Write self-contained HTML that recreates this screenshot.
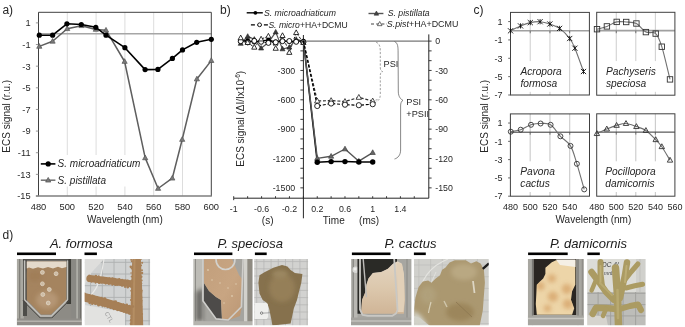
<!DOCTYPE html>
<html><head><meta charset="utf-8"><style>
html,body{margin:0;padding:0;background:#fff;}
body{width:685px;height:327px;overflow:hidden;}
svg{display:block;font-family:"Liberation Sans", sans-serif;}
</style></head><body>
<svg width="685" height="327" viewBox="0 0 685 327">
<defs><filter id="bl" x="-5%" y="-5%" width="110%" height="110%"><feGaussianBlur stdDeviation="0.75"/></filter><filter id="bl2" x="-50%" y="-50%" width="200%" height="200%"><feGaussianBlur stdDeviation="2.2"/></filter><filter id="gb" x="0" y="0" width="100%" height="100%"><feGaussianBlur stdDeviation="0.35"/></filter></defs>
<g filter="url(#gb)">
<rect width="685" height="327" fill="#fff"/>
<g id="pa">
<line x1="67.30" y1="12.30" x2="67.30" y2="196.10" stroke="#d9d9d9" stroke-width="0.9"/>
<line x1="96.10" y1="12.30" x2="96.10" y2="196.10" stroke="#d9d9d9" stroke-width="0.9"/>
<line x1="124.90" y1="12.30" x2="124.90" y2="196.10" stroke="#d9d9d9" stroke-width="0.9"/>
<line x1="153.70" y1="12.30" x2="153.70" y2="196.10" stroke="#d9d9d9" stroke-width="0.9"/>
<line x1="182.50" y1="12.30" x2="182.50" y2="196.10" stroke="#d9d9d9" stroke-width="0.9"/>
<line x1="38.50" y1="33.70" x2="211.30" y2="33.70" stroke="#a6a6a6" stroke-width="1.6"/>
<path d="M38.5,196.1 L38.5,12.3 L211.3,12.3 L211.3,196.1" fill="none" stroke="#404040" stroke-width="1"/>
<line x1="35.90" y1="196.10" x2="211.80" y2="196.10" stroke="#7e7e7e" stroke-width="1.5"/>
<line x1="35.90" y1="22.88" x2="38.50" y2="22.88" stroke="#8c8c8c" stroke-width="0.9"/>
<text x="30.6" y="26.2" font-size="9.3" text-anchor="end" fill="#262626">1</text>
<line x1="35.90" y1="44.52" x2="38.50" y2="44.52" stroke="#8c8c8c" stroke-width="0.9"/>
<text x="30.6" y="47.8" font-size="9.3" text-anchor="end" fill="#262626">-1</text>
<line x1="35.90" y1="66.16" x2="38.50" y2="66.16" stroke="#8c8c8c" stroke-width="0.9"/>
<text x="30.6" y="69.5" font-size="9.3" text-anchor="end" fill="#262626">-3</text>
<line x1="35.90" y1="87.80" x2="38.50" y2="87.80" stroke="#8c8c8c" stroke-width="0.9"/>
<text x="30.6" y="91.1" font-size="9.3" text-anchor="end" fill="#262626">-5</text>
<line x1="35.90" y1="109.44" x2="38.50" y2="109.44" stroke="#8c8c8c" stroke-width="0.9"/>
<text x="30.6" y="112.7" font-size="9.3" text-anchor="end" fill="#262626">-7</text>
<line x1="35.90" y1="131.08" x2="38.50" y2="131.08" stroke="#8c8c8c" stroke-width="0.9"/>
<text x="30.6" y="134.4" font-size="9.3" text-anchor="end" fill="#262626">-9</text>
<line x1="35.90" y1="152.72" x2="38.50" y2="152.72" stroke="#8c8c8c" stroke-width="0.9"/>
<text x="30.6" y="156.0" font-size="9.3" text-anchor="end" fill="#262626">-11</text>
<line x1="35.90" y1="174.36" x2="38.50" y2="174.36" stroke="#8c8c8c" stroke-width="0.9"/>
<text x="30.6" y="177.7" font-size="9.3" text-anchor="end" fill="#262626">-13</text>
<line x1="35.90" y1="196.00" x2="38.50" y2="196.00" stroke="#8c8c8c" stroke-width="0.9"/>
<text x="30.6" y="199.3" font-size="9.3" text-anchor="end" fill="#262626">-15</text>
<text x="38.5" y="210.4" font-size="9.3" text-anchor="middle" fill="#262626">480</text>
<text x="67.3" y="210.4" font-size="9.3" text-anchor="middle" fill="#262626">500</text>
<text x="96.1" y="210.4" font-size="9.3" text-anchor="middle" fill="#262626">520</text>
<text x="124.9" y="210.4" font-size="9.3" text-anchor="middle" fill="#262626">540</text>
<text x="153.7" y="210.4" font-size="9.3" text-anchor="middle" fill="#262626">560</text>
<text x="182.5" y="210.4" font-size="9.3" text-anchor="middle" fill="#262626">580</text>
<text x="211.3" y="210.4" font-size="9.3" text-anchor="middle" fill="#262626">600</text>
<text x="124.9" y="222.6" font-size="10" text-anchor="middle" fill="#262626">Wavelength (nm)</text>
<text x="0.0" y="0.0" font-size="10" text-anchor="middle" fill="#262626" transform="translate(9.6,116.3) rotate(-90)">ECS signal (r.u.)</text>
<text x="2.4" y="13.9" font-size="12" text-anchor="start" fill="#262626">a)</text>
<rect x="39.5" y="155" width="102.5" height="31.5" fill="#fff"/>
<polyline points="39.30,46.40 52.60,41.30 67.20,28.70 81.50,25.70 95.80,29.40 106.00,30.20 124.60,61.50 145.20,157.90 158.10,188.50 172.30,178.20 182.20,139.50 196.90,79.00 211.30,60.60" fill="none" stroke="#5e5e5e" stroke-width="1.5" stroke-linejoin="round"/>
<polygon points="39.30,43.59 36.70,48.27 41.90,48.27" fill="#7a7a7a" stroke="#555" stroke-width="0.7" stroke-linejoin="miter"/>
<polygon points="52.60,38.49 50.00,43.17 55.20,43.17" fill="#7a7a7a" stroke="#555" stroke-width="0.7" stroke-linejoin="miter"/>
<polygon points="67.20,25.89 64.60,30.57 69.80,30.57" fill="#7a7a7a" stroke="#555" stroke-width="0.7" stroke-linejoin="miter"/>
<polygon points="81.50,22.89 78.90,27.57 84.10,27.57" fill="#7a7a7a" stroke="#555" stroke-width="0.7" stroke-linejoin="miter"/>
<polygon points="95.80,26.59 93.20,31.27 98.40,31.27" fill="#7a7a7a" stroke="#555" stroke-width="0.7" stroke-linejoin="miter"/>
<polygon points="106.00,27.39 103.40,32.07 108.60,32.07" fill="#7a7a7a" stroke="#555" stroke-width="0.7" stroke-linejoin="miter"/>
<polygon points="124.60,58.69 122.00,63.37 127.20,63.37" fill="#7a7a7a" stroke="#555" stroke-width="0.7" stroke-linejoin="miter"/>
<polygon points="145.20,155.09 142.60,159.77 147.80,159.77" fill="#7a7a7a" stroke="#555" stroke-width="0.7" stroke-linejoin="miter"/>
<polygon points="158.10,185.69 155.50,190.37 160.70,190.37" fill="#7a7a7a" stroke="#555" stroke-width="0.7" stroke-linejoin="miter"/>
<polygon points="172.30,175.39 169.70,180.07 174.90,180.07" fill="#7a7a7a" stroke="#555" stroke-width="0.7" stroke-linejoin="miter"/>
<polygon points="182.20,136.69 179.60,141.37 184.80,141.37" fill="#7a7a7a" stroke="#555" stroke-width="0.7" stroke-linejoin="miter"/>
<polygon points="196.90,76.19 194.30,80.87 199.50,80.87" fill="#7a7a7a" stroke="#555" stroke-width="0.7" stroke-linejoin="miter"/>
<polygon points="211.30,57.79 208.70,62.47 213.90,62.47" fill="#7a7a7a" stroke="#555" stroke-width="0.7" stroke-linejoin="miter"/>
<polyline points="39.30,35.20 52.60,35.20 66.90,23.80 81.30,24.50 95.80,27.30 106.00,35.20 124.90,47.70 145.10,69.60 157.90,69.40 172.40,58.40 182.50,49.90 196.70,42.30 211.30,39.30" fill="none" stroke="#000" stroke-width="1.6" stroke-linejoin="round"/>
<circle cx="39.30" cy="35.20" r="2.6" fill="#000" stroke="none" stroke-width="1"/>
<circle cx="52.60" cy="35.20" r="2.6" fill="#000" stroke="none" stroke-width="1"/>
<circle cx="66.90" cy="23.80" r="2.6" fill="#000" stroke="none" stroke-width="1"/>
<circle cx="81.30" cy="24.50" r="2.6" fill="#000" stroke="none" stroke-width="1"/>
<circle cx="95.80" cy="27.30" r="2.6" fill="#000" stroke="none" stroke-width="1"/>
<circle cx="106.00" cy="35.20" r="2.6" fill="#000" stroke="none" stroke-width="1"/>
<circle cx="124.90" cy="47.70" r="2.6" fill="#000" stroke="none" stroke-width="1"/>
<circle cx="145.10" cy="69.60" r="2.6" fill="#000" stroke="none" stroke-width="1"/>
<circle cx="157.90" cy="69.40" r="2.6" fill="#000" stroke="none" stroke-width="1"/>
<circle cx="172.40" cy="58.40" r="2.6" fill="#000" stroke="none" stroke-width="1"/>
<circle cx="182.50" cy="49.90" r="2.6" fill="#000" stroke="none" stroke-width="1"/>
<circle cx="196.70" cy="42.30" r="2.6" fill="#000" stroke="none" stroke-width="1"/>
<circle cx="211.30" cy="39.30" r="2.6" fill="#000" stroke="none" stroke-width="1"/>
<line x1="40.80" y1="163.90" x2="55.40" y2="163.90" stroke="#000" stroke-width="1.6"/>
<circle cx="48.20" cy="163.90" r="2.6" fill="#000" stroke="none" stroke-width="1"/>
<text x="57.6" y="167.4" font-size="10" text-anchor="start" fill="#262626" font-style="italic">S. microadriaticum</text>
<line x1="40.80" y1="180.20" x2="55.40" y2="180.20" stroke="#6e6e6e" stroke-width="1.5"/>
<polygon points="48.20,177.39 45.60,182.07 50.80,182.07" fill="#7a7a7a" stroke="#555" stroke-width="0.7" stroke-linejoin="miter"/>
<text x="57.6" y="183.7" font-size="10" text-anchor="start" fill="#262626" font-style="italic">S. pistillata</text>
</g>
<g id="pb">
<line x1="303.40" y1="41.10" x2="428.80" y2="41.10" stroke="#404040" stroke-width="0.9"/>
<line x1="233.70" y1="198.20" x2="428.80" y2="198.20" stroke="#262626" stroke-width="1"/>
<line x1="303.40" y1="35.00" x2="303.40" y2="218.30" stroke="#262626" stroke-width="1"/>
<line x1="428.80" y1="34.40" x2="428.80" y2="198.20" stroke="#262626" stroke-width="1"/>
<line x1="300.40" y1="41.10" x2="303.40" y2="41.10" stroke="#262626" stroke-width="0.9"/>
<line x1="428.80" y1="41.10" x2="431.60" y2="41.10" stroke="#262626" stroke-width="0.9"/>
<line x1="300.40" y1="50.88" x2="303.40" y2="50.88" stroke="#262626" stroke-width="0.9"/>
<line x1="428.80" y1="50.88" x2="431.60" y2="50.88" stroke="#262626" stroke-width="0.9"/>
<line x1="300.40" y1="60.67" x2="303.40" y2="60.67" stroke="#262626" stroke-width="0.9"/>
<line x1="428.80" y1="60.67" x2="431.60" y2="60.67" stroke="#262626" stroke-width="0.9"/>
<line x1="300.40" y1="70.45" x2="303.40" y2="70.45" stroke="#262626" stroke-width="0.9"/>
<line x1="428.80" y1="70.45" x2="431.60" y2="70.45" stroke="#262626" stroke-width="0.9"/>
<line x1="300.40" y1="80.23" x2="303.40" y2="80.23" stroke="#262626" stroke-width="0.9"/>
<line x1="428.80" y1="80.23" x2="431.60" y2="80.23" stroke="#262626" stroke-width="0.9"/>
<line x1="300.40" y1="90.02" x2="303.40" y2="90.02" stroke="#262626" stroke-width="0.9"/>
<line x1="428.80" y1="90.02" x2="431.60" y2="90.02" stroke="#262626" stroke-width="0.9"/>
<line x1="300.40" y1="99.80" x2="303.40" y2="99.80" stroke="#262626" stroke-width="0.9"/>
<line x1="428.80" y1="99.80" x2="431.60" y2="99.80" stroke="#262626" stroke-width="0.9"/>
<line x1="300.40" y1="109.58" x2="303.40" y2="109.58" stroke="#262626" stroke-width="0.9"/>
<line x1="428.80" y1="109.58" x2="431.60" y2="109.58" stroke="#262626" stroke-width="0.9"/>
<line x1="300.40" y1="119.37" x2="303.40" y2="119.37" stroke="#262626" stroke-width="0.9"/>
<line x1="428.80" y1="119.37" x2="431.60" y2="119.37" stroke="#262626" stroke-width="0.9"/>
<line x1="300.40" y1="129.15" x2="303.40" y2="129.15" stroke="#262626" stroke-width="0.9"/>
<line x1="428.80" y1="129.15" x2="431.60" y2="129.15" stroke="#262626" stroke-width="0.9"/>
<line x1="300.40" y1="138.93" x2="303.40" y2="138.93" stroke="#262626" stroke-width="0.9"/>
<line x1="428.80" y1="138.93" x2="431.60" y2="138.93" stroke="#262626" stroke-width="0.9"/>
<line x1="300.40" y1="148.72" x2="303.40" y2="148.72" stroke="#262626" stroke-width="0.9"/>
<line x1="428.80" y1="148.72" x2="431.60" y2="148.72" stroke="#262626" stroke-width="0.9"/>
<line x1="300.40" y1="158.50" x2="303.40" y2="158.50" stroke="#262626" stroke-width="0.9"/>
<line x1="428.80" y1="158.50" x2="431.60" y2="158.50" stroke="#262626" stroke-width="0.9"/>
<line x1="300.40" y1="168.28" x2="303.40" y2="168.28" stroke="#262626" stroke-width="0.9"/>
<line x1="428.80" y1="168.28" x2="431.60" y2="168.28" stroke="#262626" stroke-width="0.9"/>
<line x1="300.40" y1="178.07" x2="303.40" y2="178.07" stroke="#262626" stroke-width="0.9"/>
<line x1="428.80" y1="178.07" x2="431.60" y2="178.07" stroke="#262626" stroke-width="0.9"/>
<line x1="300.40" y1="187.85" x2="303.40" y2="187.85" stroke="#262626" stroke-width="0.9"/>
<line x1="428.80" y1="187.85" x2="431.60" y2="187.85" stroke="#262626" stroke-width="0.9"/>
<text x="295.2" y="73.7" font-size="8.8" text-anchor="end" fill="#262626">-300</text>
<text x="295.2" y="103.0" font-size="8.8" text-anchor="end" fill="#262626">-600</text>
<text x="295.2" y="132.3" font-size="8.8" text-anchor="end" fill="#262626">-900</text>
<text x="295.2" y="161.7" font-size="8.8" text-anchor="end" fill="#262626">-1200</text>
<text x="295.2" y="191.0" font-size="8.8" text-anchor="end" fill="#262626">-1500</text>
<text x="435.3" y="44.3" font-size="8.8" text-anchor="start" fill="#262626">0</text>
<text x="435.3" y="73.7" font-size="8.8" text-anchor="start" fill="#262626">-30</text>
<text x="435.3" y="103.0" font-size="8.8" text-anchor="start" fill="#262626">-60</text>
<text x="435.3" y="132.3" font-size="8.8" text-anchor="start" fill="#262626">-90</text>
<text x="435.3" y="161.7" font-size="8.8" text-anchor="start" fill="#262626">-120</text>
<text x="435.3" y="191.0" font-size="8.8" text-anchor="start" fill="#262626">-150</text>
<line x1="233.70" y1="196.20" x2="233.70" y2="198.20" stroke="#262626" stroke-width="0.9"/>
<line x1="247.64" y1="196.20" x2="247.64" y2="198.20" stroke="#262626" stroke-width="0.9"/>
<line x1="261.58" y1="196.20" x2="261.58" y2="198.20" stroke="#262626" stroke-width="0.9"/>
<line x1="275.52" y1="196.20" x2="275.52" y2="198.20" stroke="#262626" stroke-width="0.9"/>
<line x1="289.46" y1="196.20" x2="289.46" y2="198.20" stroke="#262626" stroke-width="0.9"/>
<line x1="303.40" y1="196.20" x2="303.40" y2="198.20" stroke="#262626" stroke-width="0.9"/>
<line x1="233.70" y1="198.20" x2="233.70" y2="200.20" stroke="#262626" stroke-width="0.9"/>
<line x1="317.26" y1="196.20" x2="317.26" y2="198.20" stroke="#262626" stroke-width="0.9"/>
<line x1="331.12" y1="196.20" x2="331.12" y2="198.20" stroke="#262626" stroke-width="0.9"/>
<line x1="344.98" y1="196.20" x2="344.98" y2="198.20" stroke="#262626" stroke-width="0.9"/>
<line x1="358.84" y1="196.20" x2="358.84" y2="198.20" stroke="#262626" stroke-width="0.9"/>
<line x1="372.70" y1="196.20" x2="372.70" y2="198.20" stroke="#262626" stroke-width="0.9"/>
<line x1="386.56" y1="196.20" x2="386.56" y2="198.20" stroke="#262626" stroke-width="0.9"/>
<line x1="400.42" y1="196.20" x2="400.42" y2="198.20" stroke="#262626" stroke-width="0.9"/>
<line x1="414.28" y1="196.20" x2="414.28" y2="198.20" stroke="#262626" stroke-width="0.9"/>
<text x="233.7" y="212.1" font-size="8.8" text-anchor="middle" fill="#262626">-1</text>
<text x="261.6" y="212.1" font-size="8.8" text-anchor="middle" fill="#262626">-0.6</text>
<text x="289.5" y="212.1" font-size="8.8" text-anchor="middle" fill="#262626">-0.2</text>
<text x="317.3" y="212.1" font-size="8.8" text-anchor="middle" fill="#262626">0.2</text>
<text x="345.0" y="212.1" font-size="8.8" text-anchor="middle" fill="#262626">0.6</text>
<text x="372.7" y="212.1" font-size="8.8" text-anchor="middle" fill="#262626">1</text>
<text x="400.4" y="212.1" font-size="8.8" text-anchor="middle" fill="#262626">1.4</text>
<text x="267.7" y="223.5" font-size="10" text-anchor="middle" fill="#262626">(s)</text>
<text x="333.8" y="223.7" font-size="10" text-anchor="middle" fill="#262626">Time</text>
<text x="369.1" y="223.7" font-size="10" text-anchor="middle" fill="#262626">(ms)</text>
<text x="0.0" y="0.0" font-size="10" text-anchor="middle" fill="#262626" transform="translate(243.6,118.8) rotate(-90)">ECS signal (ΔI/Ix10<tspan font-size="6.5" dy="-3.8">-6</tspan><tspan dy="3.8">)</tspan></text>
<text x="220.0" y="13.9" font-size="12" text-anchor="start" fill="#262626">b)</text>
<line x1="246.70" y1="12.80" x2="262.80" y2="12.80" stroke="#000" stroke-width="1.4"/>
<circle cx="255.40" cy="12.80" r="1.9" fill="#000" stroke="none" stroke-width="1"/>
<text x="264.0" y="16.3" font-size="8.7" text-anchor="start" fill="#262626" font-style="italic">S. microadriaticum</text>
<line x1="250.90" y1="24.80" x2="268.00" y2="24.80" stroke="#000" stroke-width="1.2" stroke-dasharray="4,2.5"/>
<circle cx="259.60" cy="24.80" r="1.9" fill="#fff" stroke="#000" stroke-width="0.9"/>
<text x="268.4" y="27.9" font-size="8.6" fill="#262626"><tspan font-style="italic">S. micro</tspan>+HA+DCMU</text>
<line x1="368.50" y1="13.50" x2="383.40" y2="13.50" stroke="#555" stroke-width="1.4"/>
<polygon points="376.40,11.02 374.10,15.16 378.70,15.16" fill="#444" stroke="#333" stroke-width="0.6" stroke-linejoin="miter"/>
<text x="387.7" y="16.4" font-size="8.7" text-anchor="start" fill="#262626" font-style="italic">S. pistillata</text>
<line x1="371.00" y1="24.00" x2="387.00" y2="24.00" stroke="#444" stroke-width="1.1" stroke-dasharray="3,2.2"/>
<polygon points="379.70,21.52 377.40,25.66 382.00,25.66" fill="#fff" stroke="#333" stroke-width="0.7" stroke-linejoin="miter"/>
<text x="386.8" y="27.3" font-size="8.9" fill="#262626"><tspan font-style="italic">S.pist</tspan>+HA+DCMU</text>
<path d="M376.1,42.2 C380.5,44 380.3,48 380.3,55 L380.3,68 C380.3,70.5 381.5,71.2 382.7,71.6 C381.5,72 380.3,73 380.3,75 L380.3,94 C380.3,99 379,100.5 376,101.5" fill="none" stroke="#888" stroke-width="0.8" stroke-dasharray="2.2,1.6"/>
<text x="383.6" y="67.4" font-size="9.2" text-anchor="start" fill="#262626">PSI</text>
<path d="M394.5,41.5 C398,43 398.1,47 398.1,53 L398.3,92 C398.5,97 401,99.5 403,100.3 C401.5,101 400.6,103 400.6,106 L400.6,150 C400.6,155 398,158 394.5,159" fill="none" stroke="#555" stroke-width="0.7"/>
<text x="406.3" y="105.4" font-size="9.2" text-anchor="start" fill="#262626">PSI</text>
<text x="406.3" y="116.9" font-size="9.2" text-anchor="start" fill="#262626">+PSII</text>
<polyline points="240.70,37.90 247.70,42.60 254.30,47.30 261.10,39.10 268.40,36.20 275.70,48.40 282.50,35.60 289.30,52.50 296.20,32.70 303.40,42.60" fill="none" stroke="#000" stroke-width="0.9" stroke-linejoin="round" stroke-dasharray="2.5,1.5"/>
<polyline points="240.70,43.50 247.70,36.40 254.30,39.30 261.10,48.20 268.40,42.60 275.70,32.10 282.50,49.00 289.30,47.30 296.20,39.40 303.40,41.10" fill="none" stroke="#555" stroke-width="1.2" stroke-linejoin="round"/>
<polyline points="240.70,41.50 247.70,40.60 254.30,42.20 261.10,41.00 268.40,40.20 275.70,41.90 282.50,40.80 289.30,41.60 296.20,41.20 303.40,41.10" fill="none" stroke="#000" stroke-width="1.3" stroke-linejoin="round"/>
<polyline points="240.70,41.20 247.70,42.40 254.30,40.90 261.10,41.80 268.40,42.90 275.70,42.30 282.50,41.20 289.30,41.00 296.20,41.80 303.40,42.20" fill="none" stroke="#000" stroke-width="0.9" stroke-linejoin="round" stroke-dasharray="2.5,1.5"/>
<polygon points="240.70,40.80 238.20,45.30 243.20,45.30" fill="#3a3a3a" stroke="#222" stroke-width="0.6" stroke-linejoin="miter"/>
<polygon points="247.70,33.70 245.20,38.20 250.20,38.20" fill="#3a3a3a" stroke="#222" stroke-width="0.6" stroke-linejoin="miter"/>
<polygon points="254.30,36.60 251.80,41.10 256.80,41.10" fill="#3a3a3a" stroke="#222" stroke-width="0.6" stroke-linejoin="miter"/>
<polygon points="261.10,45.50 258.60,50.00 263.60,50.00" fill="#3a3a3a" stroke="#222" stroke-width="0.6" stroke-linejoin="miter"/>
<polygon points="268.40,39.90 265.90,44.40 270.90,44.40" fill="#3a3a3a" stroke="#222" stroke-width="0.6" stroke-linejoin="miter"/>
<polygon points="275.70,29.40 273.20,33.90 278.20,33.90" fill="#3a3a3a" stroke="#222" stroke-width="0.6" stroke-linejoin="miter"/>
<polygon points="282.50,46.30 280.00,50.80 285.00,50.80" fill="#3a3a3a" stroke="#222" stroke-width="0.6" stroke-linejoin="miter"/>
<polygon points="289.30,44.60 286.80,49.10 291.80,49.10" fill="#3a3a3a" stroke="#222" stroke-width="0.6" stroke-linejoin="miter"/>
<polygon points="296.20,36.70 293.70,41.20 298.70,41.20" fill="#3a3a3a" stroke="#222" stroke-width="0.6" stroke-linejoin="miter"/>
<polygon points="303.40,38.40 300.90,42.90 305.90,42.90" fill="#3a3a3a" stroke="#222" stroke-width="0.6" stroke-linejoin="miter"/>
<circle cx="240.70" cy="41.50" r="2.4" fill="#000" stroke="none" stroke-width="1"/>
<circle cx="247.70" cy="40.60" r="2.4" fill="#000" stroke="none" stroke-width="1"/>
<circle cx="254.30" cy="42.20" r="2.4" fill="#000" stroke="none" stroke-width="1"/>
<circle cx="261.10" cy="41.00" r="2.4" fill="#000" stroke="none" stroke-width="1"/>
<circle cx="268.40" cy="40.20" r="2.4" fill="#000" stroke="none" stroke-width="1"/>
<circle cx="275.70" cy="41.90" r="2.4" fill="#000" stroke="none" stroke-width="1"/>
<circle cx="282.50" cy="40.80" r="2.4" fill="#000" stroke="none" stroke-width="1"/>
<circle cx="289.30" cy="41.60" r="2.4" fill="#000" stroke="none" stroke-width="1"/>
<circle cx="296.20" cy="41.20" r="2.4" fill="#000" stroke="none" stroke-width="1"/>
<circle cx="303.40" cy="41.10" r="2.4" fill="#000" stroke="none" stroke-width="1"/>
<circle cx="240.70" cy="41.20" r="2.5" fill="#fff" stroke="#000" stroke-width="0.9"/>
<circle cx="247.70" cy="42.40" r="2.5" fill="#fff" stroke="#000" stroke-width="0.9"/>
<circle cx="254.30" cy="40.90" r="2.5" fill="#fff" stroke="#000" stroke-width="0.9"/>
<circle cx="261.10" cy="41.80" r="2.5" fill="#fff" stroke="#000" stroke-width="0.9"/>
<circle cx="268.40" cy="42.90" r="2.5" fill="#fff" stroke="#000" stroke-width="0.9"/>
<circle cx="275.70" cy="42.30" r="2.5" fill="#fff" stroke="#000" stroke-width="0.9"/>
<circle cx="282.50" cy="41.20" r="2.5" fill="#fff" stroke="#000" stroke-width="0.9"/>
<circle cx="289.30" cy="41.00" r="2.5" fill="#fff" stroke="#000" stroke-width="0.9"/>
<circle cx="296.20" cy="41.80" r="2.5" fill="#fff" stroke="#000" stroke-width="0.9"/>
<circle cx="303.40" cy="42.20" r="2.5" fill="#fff" stroke="#000" stroke-width="0.9"/>
<polygon points="240.70,35.09 238.10,39.77 243.30,39.77" fill="#fff" stroke="#000" stroke-width="0.8" stroke-linejoin="miter"/>
<polygon points="247.70,39.79 245.10,44.47 250.30,44.47" fill="#fff" stroke="#000" stroke-width="0.8" stroke-linejoin="miter"/>
<polygon points="254.30,44.49 251.70,49.17 256.90,49.17" fill="#fff" stroke="#000" stroke-width="0.8" stroke-linejoin="miter"/>
<polygon points="261.10,36.29 258.50,40.97 263.70,40.97" fill="#fff" stroke="#000" stroke-width="0.8" stroke-linejoin="miter"/>
<polygon points="268.40,33.39 265.80,38.07 271.00,38.07" fill="#fff" stroke="#000" stroke-width="0.8" stroke-linejoin="miter"/>
<polygon points="275.70,45.59 273.10,50.27 278.30,50.27" fill="#fff" stroke="#000" stroke-width="0.8" stroke-linejoin="miter"/>
<polygon points="282.50,32.79 279.90,37.47 285.10,37.47" fill="#fff" stroke="#000" stroke-width="0.8" stroke-linejoin="miter"/>
<polygon points="289.30,49.69 286.70,54.37 291.90,54.37" fill="#fff" stroke="#000" stroke-width="0.8" stroke-linejoin="miter"/>
<polygon points="296.20,29.89 293.60,34.57 298.80,34.57" fill="#fff" stroke="#000" stroke-width="0.8" stroke-linejoin="miter"/>
<polygon points="303.40,39.79 300.80,44.47 306.00,44.47" fill="#fff" stroke="#000" stroke-width="0.8" stroke-linejoin="miter"/>
<polyline points="303.40,41.10 317.26,162.20 331.12,161.60 344.98,161.60 358.84,162.00 372.70,162.00" fill="none" stroke="#000" stroke-width="1.5" stroke-linejoin="round"/>
<polyline points="303.40,41.10 317.26,158.40 331.12,156.30 344.98,149.00 358.84,161.20 372.70,152.60" fill="none" stroke="#555" stroke-width="1.4" stroke-linejoin="round"/>
<polyline points="303.40,41.10 317.26,101.00 331.12,100.60 344.98,101.50 358.84,97.40 372.70,101.00" fill="none" stroke="#333" stroke-width="1.2" stroke-linejoin="round" stroke-dasharray="3,1.8"/>
<polyline points="303.40,41.10 317.26,106.00 331.12,103.50 344.98,104.70 358.84,105.20 372.70,104.20" fill="none" stroke="#000" stroke-width="1.2" stroke-linejoin="round" stroke-dasharray="3,1.8"/>
<line x1="372.20" y1="101.00" x2="378.00" y2="99.50" stroke="#888" stroke-width="0.8" stroke-dasharray="2,1.5"/>
<polygon points="317.26,155.59 314.66,160.27 319.86,160.27" fill="#666" stroke="#444" stroke-width="0.7" stroke-linejoin="miter"/>
<polygon points="331.12,153.49 328.52,158.17 333.72,158.17" fill="#666" stroke="#444" stroke-width="0.7" stroke-linejoin="miter"/>
<polygon points="344.98,146.19 342.38,150.87 347.58,150.87" fill="#666" stroke="#444" stroke-width="0.7" stroke-linejoin="miter"/>
<polygon points="358.84,158.39 356.24,163.07 361.44,163.07" fill="#666" stroke="#444" stroke-width="0.7" stroke-linejoin="miter"/>
<polygon points="372.70,149.79 370.10,154.47 375.30,154.47" fill="#666" stroke="#444" stroke-width="0.7" stroke-linejoin="miter"/>
<circle cx="317.26" cy="162.20" r="2.7" fill="#000" stroke="none" stroke-width="1"/>
<circle cx="331.12" cy="161.60" r="2.7" fill="#000" stroke="none" stroke-width="1"/>
<circle cx="344.98" cy="161.60" r="2.7" fill="#000" stroke="none" stroke-width="1"/>
<circle cx="358.84" cy="162.00" r="2.7" fill="#000" stroke="none" stroke-width="1"/>
<circle cx="372.70" cy="162.00" r="2.7" fill="#000" stroke="none" stroke-width="1"/>
<polygon points="317.26,98.08 314.56,102.94 319.96,102.94" fill="#fff" stroke="#222" stroke-width="0.8" stroke-linejoin="miter"/>
<polygon points="331.12,97.68 328.42,102.54 333.82,102.54" fill="#fff" stroke="#222" stroke-width="0.8" stroke-linejoin="miter"/>
<polygon points="344.98,98.58 342.28,103.44 347.68,103.44" fill="#fff" stroke="#222" stroke-width="0.8" stroke-linejoin="miter"/>
<polygon points="358.84,94.48 356.14,99.34 361.54,99.34" fill="#fff" stroke="#222" stroke-width="0.8" stroke-linejoin="miter"/>
<polygon points="372.70,98.08 370.00,102.94 375.40,102.94" fill="#fff" stroke="#222" stroke-width="0.8" stroke-linejoin="miter"/>
<circle cx="317.26" cy="106.00" r="2.6" fill="#fff" stroke="#111" stroke-width="0.9"/>
<circle cx="331.12" cy="103.50" r="2.6" fill="#fff" stroke="#111" stroke-width="0.9"/>
<circle cx="344.98" cy="104.70" r="2.6" fill="#fff" stroke="#111" stroke-width="0.9"/>
<circle cx="358.84" cy="105.20" r="2.6" fill="#fff" stroke="#111" stroke-width="0.9"/>
<circle cx="372.70" cy="104.20" r="2.6" fill="#fff" stroke="#111" stroke-width="0.9"/>
</g>
<g id="pc">
<line x1="530.23" y1="12.40" x2="530.23" y2="95.00" stroke="#cdcdcd" stroke-width="1.0"/>
<line x1="549.95" y1="12.40" x2="549.95" y2="95.00" stroke="#cdcdcd" stroke-width="1.0"/>
<line x1="569.67" y1="12.40" x2="569.67" y2="95.00" stroke="#cdcdcd" stroke-width="1.0"/>
<line x1="510.50" y1="30.76" x2="589.40" y2="30.76" stroke="#a0a0a0" stroke-width="1.7"/>
<line x1="530.23" y1="30.76" x2="530.23" y2="33.26" stroke="#555" stroke-width="0.8"/>
<line x1="549.95" y1="30.76" x2="549.95" y2="33.26" stroke="#555" stroke-width="0.8"/>
<line x1="569.67" y1="30.76" x2="569.67" y2="33.26" stroke="#555" stroke-width="0.8"/>
<rect x="510.5" y="12.4" width="78.90" height="82.60" fill="none" stroke="#404040" stroke-width="1"/>
<line x1="508.20" y1="21.58" x2="510.50" y2="21.58" stroke="#555" stroke-width="0.9"/>
<text x="502.6" y="24.8" font-size="9" text-anchor="end" fill="#262626">1</text>
<line x1="508.20" y1="39.93" x2="510.50" y2="39.93" stroke="#555" stroke-width="0.9"/>
<text x="502.6" y="43.1" font-size="9" text-anchor="end" fill="#262626">-1</text>
<line x1="508.20" y1="58.29" x2="510.50" y2="58.29" stroke="#555" stroke-width="0.9"/>
<text x="502.6" y="61.5" font-size="9" text-anchor="end" fill="#262626">-3</text>
<line x1="508.20" y1="76.64" x2="510.50" y2="76.64" stroke="#555" stroke-width="0.9"/>
<text x="502.6" y="79.8" font-size="9" text-anchor="end" fill="#262626">-5</text>
<line x1="508.20" y1="95.00" x2="510.50" y2="95.00" stroke="#555" stroke-width="0.9"/>
<text x="502.6" y="98.2" font-size="9" text-anchor="end" fill="#262626">-7</text>
<path d="M510.50,30.80 C512.17,29.98 517.20,27.27 520.50,25.90 C523.80,24.53 527.03,23.30 530.30,22.60 C533.57,21.90 536.83,21.47 540.10,21.70 C543.37,21.93 546.65,22.88 549.90,24.00 C553.15,25.12 556.30,25.98 559.60,28.40 C562.90,30.82 567.15,35.20 569.70,38.50 C572.25,41.80 572.60,42.70 574.90,48.20 C577.20,53.70 582.07,67.62 583.50,71.50" fill="none" stroke="#707070" stroke-width="1.1"/>
<path d="M507.90,28.20L513.10,33.40M513.10,28.20L507.90,33.40M510.50,28.20L510.50,33.40" stroke="#111" stroke-width="0.9" fill="none"/>
<path d="M517.90,23.30L523.10,28.50M523.10,23.30L517.90,28.50M520.50,23.30L520.50,28.50" stroke="#111" stroke-width="0.9" fill="none"/>
<path d="M527.70,20.00L532.90,25.20M532.90,20.00L527.70,25.20M530.30,20.00L530.30,25.20" stroke="#111" stroke-width="0.9" fill="none"/>
<path d="M537.50,19.10L542.70,24.30M542.70,19.10L537.50,24.30M540.10,19.10L540.10,24.30" stroke="#111" stroke-width="0.9" fill="none"/>
<path d="M547.30,21.40L552.50,26.60M552.50,21.40L547.30,26.60M549.90,21.40L549.90,26.60" stroke="#111" stroke-width="0.9" fill="none"/>
<path d="M557.00,25.80L562.20,31.00M562.20,25.80L557.00,31.00M559.60,25.80L559.60,31.00" stroke="#111" stroke-width="0.9" fill="none"/>
<path d="M567.10,35.90L572.30,41.10M572.30,35.90L567.10,41.10M569.70,35.90L569.70,41.10" stroke="#111" stroke-width="0.9" fill="none"/>
<path d="M572.30,45.60L577.50,50.80M577.50,45.60L572.30,50.80M574.90,45.60L574.90,50.80" stroke="#111" stroke-width="0.9" fill="none"/>
<path d="M580.90,68.90L586.10,74.10M586.10,68.90L580.90,74.10M583.50,68.90L583.50,74.10" stroke="#111" stroke-width="0.9" fill="none"/>
<rect x="514.0" y="61.1" width="52" height="30.7" fill="#fff"/>
<text x="520.4" y="74.5" font-size="10.2" text-anchor="start" fill="#262626" font-style="italic">Acropora</text>
<text x="520.4" y="86.6" font-size="10.2" text-anchor="start" fill="#262626" font-style="italic">formosa</text>
<line x1="616.25" y1="12.30" x2="616.25" y2="95.20" stroke="#cdcdcd" stroke-width="1.0"/>
<line x1="635.80" y1="12.30" x2="635.80" y2="95.20" stroke="#cdcdcd" stroke-width="1.0"/>
<line x1="655.35" y1="12.30" x2="655.35" y2="95.20" stroke="#cdcdcd" stroke-width="1.0"/>
<line x1="596.70" y1="30.72" x2="674.90" y2="30.72" stroke="#a0a0a0" stroke-width="1.7"/>
<line x1="616.25" y1="30.72" x2="616.25" y2="33.22" stroke="#555" stroke-width="0.8"/>
<line x1="635.80" y1="30.72" x2="635.80" y2="33.22" stroke="#555" stroke-width="0.8"/>
<line x1="655.35" y1="30.72" x2="655.35" y2="33.22" stroke="#555" stroke-width="0.8"/>
<rect x="596.7" y="12.3" width="78.20" height="82.90" fill="none" stroke="#404040" stroke-width="1"/>
<path d="M597.00,29.20 C598.65,28.73 603.62,27.62 606.90,26.40 C610.18,25.18 613.48,22.63 616.70,21.90 C619.92,21.17 622.92,21.73 626.20,22.00 C629.48,22.27 633.12,21.82 636.40,23.50 C639.68,25.18 642.68,30.42 645.90,32.10 C649.12,33.78 653.05,31.17 655.70,33.60 C658.35,36.03 659.42,39.07 661.80,46.70 C664.18,54.33 668.63,73.95 670.00,79.40" fill="none" stroke="#707070" stroke-width="1.1"/>
<rect x="594.30" y="26.50" width="5.4" height="5.4" fill="none" stroke="#333" stroke-width="0.9"/>
<rect x="604.20" y="23.70" width="5.4" height="5.4" fill="none" stroke="#333" stroke-width="0.9"/>
<rect x="614.00" y="19.20" width="5.4" height="5.4" fill="none" stroke="#333" stroke-width="0.9"/>
<rect x="623.50" y="19.30" width="5.4" height="5.4" fill="none" stroke="#333" stroke-width="0.9"/>
<rect x="633.70" y="20.80" width="5.4" height="5.4" fill="none" stroke="#333" stroke-width="0.9"/>
<rect x="643.20" y="29.40" width="5.4" height="5.4" fill="none" stroke="#333" stroke-width="0.9"/>
<rect x="653.00" y="30.90" width="5.4" height="5.4" fill="none" stroke="#333" stroke-width="0.9"/>
<rect x="659.10" y="44.00" width="5.4" height="5.4" fill="none" stroke="#333" stroke-width="0.9"/>
<rect x="667.30" y="76.70" width="5.4" height="5.4" fill="none" stroke="#333" stroke-width="0.9"/>
<rect x="600.2" y="61.1" width="63" height="30.7" fill="#fff"/>
<text x="606.0" y="74.5" font-size="10.2" text-anchor="start" fill="#262626" font-style="italic">Pachyseris</text>
<text x="606.0" y="86.6" font-size="10.2" text-anchor="start" fill="#262626" font-style="italic">speciosa</text>
<line x1="530.17" y1="113.90" x2="530.17" y2="196.20" stroke="#b5b5b5" stroke-width="0.8"/>
<line x1="549.95" y1="113.90" x2="549.95" y2="196.20" stroke="#b5b5b5" stroke-width="0.8"/>
<line x1="569.73" y1="113.90" x2="569.73" y2="196.20" stroke="#b5b5b5" stroke-width="0.8"/>
<line x1="510.40" y1="132.19" x2="589.50" y2="132.19" stroke="#333" stroke-width="1.0"/>
<line x1="530.17" y1="132.19" x2="530.17" y2="134.69" stroke="#555" stroke-width="0.8"/>
<line x1="549.95" y1="132.19" x2="549.95" y2="134.69" stroke="#555" stroke-width="0.8"/>
<line x1="569.73" y1="132.19" x2="569.73" y2="134.69" stroke="#555" stroke-width="0.8"/>
<rect x="510.4" y="113.9" width="79.10" height="82.30" fill="none" stroke="#404040" stroke-width="1"/>
<line x1="508.10" y1="123.04" x2="510.40" y2="123.04" stroke="#555" stroke-width="0.9"/>
<text x="502.5" y="126.2" font-size="9" text-anchor="end" fill="#262626">1</text>
<line x1="508.10" y1="141.33" x2="510.40" y2="141.33" stroke="#555" stroke-width="0.9"/>
<text x="502.5" y="144.5" font-size="9" text-anchor="end" fill="#262626">-1</text>
<line x1="508.10" y1="159.62" x2="510.40" y2="159.62" stroke="#555" stroke-width="0.9"/>
<text x="502.5" y="162.8" font-size="9" text-anchor="end" fill="#262626">-3</text>
<line x1="508.10" y1="177.91" x2="510.40" y2="177.91" stroke="#555" stroke-width="0.9"/>
<text x="502.5" y="181.1" font-size="9" text-anchor="end" fill="#262626">-5</text>
<line x1="508.10" y1="196.20" x2="510.40" y2="196.20" stroke="#555" stroke-width="0.9"/>
<text x="502.5" y="199.4" font-size="9" text-anchor="end" fill="#262626">-7</text>
<text x="510.4" y="210.3" font-size="9" text-anchor="middle" fill="#262626">480</text>
<text x="530.2" y="210.3" font-size="9" text-anchor="middle" fill="#262626">500</text>
<text x="550.0" y="210.3" font-size="9" text-anchor="middle" fill="#262626">520</text>
<text x="569.7" y="210.3" font-size="9" text-anchor="middle" fill="#262626">540</text>
<path d="M510.80,131.70 C512.45,131.37 517.33,130.85 520.70,129.70 C524.07,128.55 527.68,125.83 531.00,124.80 C534.32,123.77 537.33,123.50 540.60,123.50 C543.87,123.50 547.30,122.67 550.60,124.80 C553.90,126.93 557.08,132.78 560.40,136.30 C563.72,139.82 567.75,141.32 570.50,145.90 C573.25,150.48 574.62,156.55 576.90,163.80 C579.18,171.05 582.98,185.13 584.20,189.40" fill="none" stroke="#707070" stroke-width="1.1"/>
<circle cx="510.80" cy="131.70" r="2.5" fill="none" stroke="#333" stroke-width="0.9"/>
<circle cx="520.70" cy="129.70" r="2.5" fill="none" stroke="#333" stroke-width="0.9"/>
<circle cx="531.00" cy="124.80" r="2.5" fill="none" stroke="#333" stroke-width="0.9"/>
<circle cx="540.60" cy="123.50" r="2.5" fill="none" stroke="#333" stroke-width="0.9"/>
<circle cx="550.60" cy="124.80" r="2.5" fill="none" stroke="#333" stroke-width="0.9"/>
<circle cx="560.40" cy="136.30" r="2.5" fill="none" stroke="#333" stroke-width="0.9"/>
<circle cx="570.50" cy="145.90" r="2.5" fill="none" stroke="#333" stroke-width="0.9"/>
<circle cx="576.90" cy="163.80" r="2.5" fill="none" stroke="#333" stroke-width="0.9"/>
<circle cx="584.20" cy="189.40" r="2.5" fill="none" stroke="#333" stroke-width="0.9"/>
<rect x="513.9" y="161.3" width="52" height="30.7" fill="#fff"/>
<text x="520.3" y="174.7" font-size="10.2" text-anchor="start" fill="#262626" font-style="italic">Pavona</text>
<text x="520.3" y="186.6" font-size="10.2" text-anchor="start" fill="#262626" font-style="italic">cactus</text>
<line x1="616.25" y1="113.80" x2="616.25" y2="196.20" stroke="#b5b5b5" stroke-width="0.8"/>
<line x1="635.80" y1="113.80" x2="635.80" y2="196.20" stroke="#b5b5b5" stroke-width="0.8"/>
<line x1="655.35" y1="113.80" x2="655.35" y2="196.20" stroke="#b5b5b5" stroke-width="0.8"/>
<line x1="596.70" y1="132.11" x2="674.90" y2="132.11" stroke="#333" stroke-width="1.0"/>
<line x1="616.25" y1="132.11" x2="616.25" y2="134.61" stroke="#555" stroke-width="0.8"/>
<line x1="635.80" y1="132.11" x2="635.80" y2="134.61" stroke="#555" stroke-width="0.8"/>
<line x1="655.35" y1="132.11" x2="655.35" y2="134.61" stroke="#555" stroke-width="0.8"/>
<rect x="596.7" y="113.8" width="78.20" height="82.40" fill="none" stroke="#404040" stroke-width="1"/>
<text x="596.7" y="210.3" font-size="9" text-anchor="middle" fill="#262626">480</text>
<text x="616.2" y="210.3" font-size="9" text-anchor="middle" fill="#262626">500</text>
<text x="635.8" y="210.3" font-size="9" text-anchor="middle" fill="#262626">520</text>
<text x="655.4" y="210.3" font-size="9" text-anchor="middle" fill="#262626">540</text>
<text x="674.9" y="210.3" font-size="9" text-anchor="middle" fill="#262626">560</text>
<path d="M596.90,133.60 C598.55,132.83 603.52,130.37 606.80,129.00 C610.08,127.63 613.40,126.32 616.60,125.40 C619.80,124.48 622.70,123.30 626.00,123.50 C629.30,123.70 633.08,125.43 636.40,126.60 C639.72,127.77 642.68,128.32 645.90,130.50 C649.12,132.68 653.05,137.00 655.70,139.70 C658.35,142.40 659.42,143.28 661.80,146.70 C664.18,150.12 668.63,157.95 670.00,160.20" fill="none" stroke="#707070" stroke-width="1.1"/>
<polygon points="596.90,130.68 594.20,135.54 599.60,135.54" fill="none" stroke="#333" stroke-width="0.9" stroke-linejoin="miter"/>
<polygon points="606.80,126.08 604.10,130.94 609.50,130.94" fill="none" stroke="#333" stroke-width="0.9" stroke-linejoin="miter"/>
<polygon points="616.60,122.48 613.90,127.34 619.30,127.34" fill="none" stroke="#333" stroke-width="0.9" stroke-linejoin="miter"/>
<polygon points="626.00,120.58 623.30,125.44 628.70,125.44" fill="none" stroke="#333" stroke-width="0.9" stroke-linejoin="miter"/>
<polygon points="636.40,123.68 633.70,128.54 639.10,128.54" fill="none" stroke="#333" stroke-width="0.9" stroke-linejoin="miter"/>
<polygon points="645.90,127.58 643.20,132.44 648.60,132.44" fill="none" stroke="#333" stroke-width="0.9" stroke-linejoin="miter"/>
<polygon points="655.70,136.78 653.00,141.64 658.40,141.64" fill="none" stroke="#333" stroke-width="0.9" stroke-linejoin="miter"/>
<polygon points="661.80,143.78 659.10,148.64 664.50,148.64" fill="none" stroke="#333" stroke-width="0.9" stroke-linejoin="miter"/>
<polygon points="670.00,157.28 667.30,162.14 672.70,162.14" fill="none" stroke="#333" stroke-width="0.9" stroke-linejoin="miter"/>
<rect x="600.2" y="161.3" width="63" height="30.7" fill="#fff"/>
<text x="605.3" y="174.7" font-size="10.2" text-anchor="start" fill="#262626" font-style="italic">Pocillopora</text>
<text x="605.3" y="186.6" font-size="10.2" text-anchor="start" fill="#262626" font-style="italic">damicornis</text>
<text x="593.4" y="222.6" font-size="10" text-anchor="middle" fill="#262626">Wavelength (nm)</text>
<text x="0.0" y="0.0" font-size="10" text-anchor="middle" fill="#262626" transform="translate(487.6,116.3) rotate(-90)">ECS signal (r.u.)</text>
<text x="473.4" y="13.9" font-size="12" text-anchor="start" fill="#262626">c)</text>
</g>
<g id="pd">
<text x="2.5" y="239.4" font-size="12" text-anchor="start" fill="#262626">d)</text>
<text x="49.9" y="247.6" font-size="13" text-anchor="start" fill="#1a1a1a" font-style="italic">A. formosa</text>
<text x="217.4" y="247.6" font-size="13" text-anchor="start" fill="#1a1a1a" font-style="italic">P. speciosa</text>
<text x="384.6" y="247.6" font-size="13" text-anchor="start" fill="#1a1a1a" font-style="italic">P. cactus</text>
<text x="549.9" y="247.6" font-size="13" text-anchor="start" fill="#1a1a1a" font-style="italic">P. damicornis</text>
<rect x="17" y="252.5" width="39.0" height="2.6" fill="#000"/>
<rect x="84.5" y="252.5" width="12.4" height="2.6" fill="#000"/>
<rect x="194" y="252.5" width="38.4" height="2.6" fill="#000"/>
<rect x="254.9" y="252.5" width="11.8" height="2.6" fill="#000"/>
<rect x="351.9" y="252.5" width="38.6" height="2.6" fill="#000"/>
<rect x="413.9" y="252.5" width="11.9" height="2.6" fill="#000"/>
<rect x="528.1" y="252.5" width="39.6" height="2.6" fill="#000"/>
<rect x="587.4" y="252.5" width="12.4" height="2.6" fill="#000"/>
<clipPath id="p1"><rect x="16.8" y="259.1" width="65.0" height="66.1"/></clipPath>
<g clip-path="url(#p1)"><g filter="url(#bl)">
<rect x="16.8" y="259" width="65" height="67" fill="#8d8b85"/>
<rect x="16.8" y="259" width="7" height="67" fill="#aaa9a2"/>
<line x1="19.70" y1="259.00" x2="19.70" y2="326.00" stroke="#7d7c76" stroke-width="1.2"/>
<rect x="23" y="259" width="4" height="57" fill="#4e4d49"/>
<rect x="66.4" y="259" width="4.8" height="45" fill="#3d3c39"/>
<rect x="71.2" y="259" width="10.6" height="67" fill="#8a8984"/>
<line x1="77.10" y1="259.00" x2="77.10" y2="326.00" stroke="#b2b1ab" stroke-width="1.6"/>
<line x1="80.50" y1="259.00" x2="80.50" y2="326.00" stroke="#6f6e69" stroke-width="1"/>
<polygon points="26.8,261.5 66.4,261.5 66.4,300.0 51.0,314.5 41.0,314.5 26.8,300.0" fill="#a5845f"/>
<g filter="url(#bl2)"><ellipse cx="47" cy="300" rx="11" ry="9" fill="#b59674"/><ellipse cx="35" cy="276" rx="7" ry="6" fill="#a07e59"/></g>
<polygon points="26.8,261.5 66.4,261.5 66.4,267.0 62.0,268.2 58.0,266.8 53.0,268.5 48.0,267.0 43.0,268.6 38.0,267.2 33.0,268.8 29.0,267.5 26.8,268.5" fill="#e4dacb"/>
<circle cx="42.4" cy="272.4" r="1.9" fill="#cdbba3" stroke="#ddd1c1" stroke-width="0.9"/>
<circle cx="56.1" cy="273.7" r="1.9" fill="#cdbba3" stroke="#ddd1c1" stroke-width="0.9"/>
<circle cx="42.4" cy="283.8" r="1.9" fill="#cdbba3" stroke="#ddd1c1" stroke-width="0.9"/>
<circle cx="49.3" cy="289.5" r="1.9" fill="#cdbba3" stroke="#ddd1c1" stroke-width="0.9"/>
<circle cx="42.8" cy="294.5" r="1.9" fill="#cdbba3" stroke="#ddd1c1" stroke-width="0.9"/>
<circle cx="48.2" cy="303" r="1.9" fill="#cdbba3" stroke="#ddd1c1" stroke-width="0.9"/>
<line x1="24.50" y1="259.60" x2="68.50" y2="259.60" stroke="#55534f" stroke-width="1.6"/>
<polyline points="24.6,261.0 24.6,299.8 40.7,316.0 51.4,316.0 67.5,299.8 67.5,261.0" fill="none" stroke="#c3c2bd" stroke-width="1.5" stroke-linejoin="round" stroke-linecap="round"/>
<polyline points="23.3,301.0 40.3,318.0 51.8,318.0 68.8,301.0" fill="none" stroke="#4a4945" stroke-width="1.0" stroke-linejoin="round" stroke-linecap="round"/>
<rect x="16.8" y="318.5" width="65" height="8" fill="#8f8d88"/>
<line x1="16.80" y1="321.20" x2="81.80" y2="321.20" stroke="#b5b3ad" stroke-width="1.6"/>
</g></g>
<clipPath id="p2"><rect x="84.6" y="259.1" width="65.5" height="66.1"/></clipPath>
<g clip-path="url(#p2)"><g filter="url(#bl)">
<rect x="84.6" y="259" width="66" height="67" fill="#d0d2d2"/>
<line x1="90.60" y1="259.00" x2="90.60" y2="326.00" stroke="#aeb0b0" stroke-width="0.9"/>
<line x1="102.30" y1="259.00" x2="102.30" y2="326.00" stroke="#aeb0b0" stroke-width="0.9"/>
<line x1="114.00" y1="259.00" x2="114.00" y2="326.00" stroke="#aeb0b0" stroke-width="0.9"/>
<line x1="125.70" y1="259.00" x2="125.70" y2="326.00" stroke="#aeb0b0" stroke-width="0.9"/>
<line x1="137.40" y1="259.00" x2="137.40" y2="326.00" stroke="#aeb0b0" stroke-width="0.9"/>
<line x1="149.10" y1="259.00" x2="149.10" y2="326.00" stroke="#aeb0b0" stroke-width="0.9"/>
<line x1="84.60" y1="262.30" x2="151.00" y2="262.30" stroke="#aeb0b0" stroke-width="0.9"/>
<line x1="84.60" y1="274.00" x2="151.00" y2="274.00" stroke="#aeb0b0" stroke-width="0.9"/>
<line x1="84.60" y1="285.70" x2="151.00" y2="285.70" stroke="#aeb0b0" stroke-width="0.9"/>
<line x1="84.60" y1="297.40" x2="151.00" y2="297.40" stroke="#aeb0b0" stroke-width="0.9"/>
<line x1="84.60" y1="309.10" x2="151.00" y2="309.10" stroke="#aeb0b0" stroke-width="0.9"/>
<line x1="84.60" y1="320.80" x2="151.00" y2="320.80" stroke="#aeb0b0" stroke-width="0.9"/>
<polygon points="84.6,259.0 104.0,259.0 92.0,272.0 84.6,285.0" fill="#dededc"/>
<path d="M86,300 C95,292 100,286 104,259" fill="none" stroke="#e8e8e6" stroke-width="1.2"/>
<polygon points="84.6,305.0 125.0,312.0 125.0,326.0 84.6,326.0" fill="#e2e2e0"/>
<text x="104" y="320" font-size="6" fill="#9a9a9a" transform="rotate(60 110 317)">CTL</text>
<polyline points="89.8,278.6 110.0,281.0 132.3,284.0" fill="none" stroke="#a67f56" stroke-width="7.0" stroke-linejoin="round" stroke-linecap="round"/>
<polyline points="83.0,296.8 105.0,302.5 132.0,310.6" fill="none" stroke="#a67f56" stroke-width="8.6" stroke-linejoin="round" stroke-linecap="round"/>
<polygon points="132.3,259 140.9,259 142.2,290 143.2,326 130.2,326 131,290" fill="#a88158"/>
<line x1="134.50" y1="259.00" x2="133.50" y2="326.00" stroke="#b48e63" stroke-width="2.0"/>
<circle cx="89.04" cy="281.12" r="1.13" fill="#a67f56" stroke="none" stroke-width="1"/>
<circle cx="89.18" cy="275.40" r="0.97" fill="#a67f56" stroke="none" stroke-width="1"/>
<circle cx="91.52" cy="281.91" r="0.79" fill="#a67f56" stroke="none" stroke-width="1"/>
<circle cx="93.14" cy="276.53" r="0.82" fill="#a67f56" stroke="none" stroke-width="1"/>
<circle cx="95.51" cy="282.85" r="0.84" fill="#a67f56" stroke="none" stroke-width="1"/>
<circle cx="95.91" cy="276.16" r="1.29" fill="#a67f56" stroke="none" stroke-width="1"/>
<circle cx="99.12" cy="282.76" r="1.31" fill="#a67f56" stroke="none" stroke-width="1"/>
<circle cx="98.70" cy="276.22" r="0.93" fill="#a67f56" stroke="none" stroke-width="1"/>
<circle cx="101.31" cy="282.68" r="0.94" fill="#a67f56" stroke="none" stroke-width="1"/>
<circle cx="103.59" cy="277.75" r="1.09" fill="#a67f56" stroke="none" stroke-width="1"/>
<circle cx="105.62" cy="283.58" r="1.07" fill="#a67f56" stroke="none" stroke-width="1"/>
<circle cx="104.95" cy="278.09" r="0.88" fill="#a67f56" stroke="none" stroke-width="1"/>
<circle cx="108.88" cy="284.08" r="0.94" fill="#a67f56" stroke="none" stroke-width="1"/>
<circle cx="109.43" cy="278.16" r="0.93" fill="#a67f56" stroke="none" stroke-width="1"/>
<circle cx="112.28" cy="284.88" r="0.9" fill="#a67f56" stroke="none" stroke-width="1"/>
<circle cx="112.59" cy="278.48" r="1.25" fill="#a67f56" stroke="none" stroke-width="1"/>
<circle cx="115.37" cy="284.75" r="1.31" fill="#a67f56" stroke="none" stroke-width="1"/>
<circle cx="114.66" cy="278.89" r="1.19" fill="#a67f56" stroke="none" stroke-width="1"/>
<circle cx="117.13" cy="285.24" r="0.79" fill="#a67f56" stroke="none" stroke-width="1"/>
<circle cx="119.20" cy="279.03" r="1.09" fill="#a67f56" stroke="none" stroke-width="1"/>
<circle cx="122.06" cy="285.66" r="1.15" fill="#a67f56" stroke="none" stroke-width="1"/>
<circle cx="122.16" cy="279.66" r="1.02" fill="#a67f56" stroke="none" stroke-width="1"/>
<circle cx="125.04" cy="286.88" r="1.03" fill="#a67f56" stroke="none" stroke-width="1"/>
<circle cx="125.41" cy="280.77" r="1.16" fill="#a67f56" stroke="none" stroke-width="1"/>
<circle cx="127.74" cy="287.30" r="1.22" fill="#a67f56" stroke="none" stroke-width="1"/>
<circle cx="127.74" cy="280.65" r="1.14" fill="#a67f56" stroke="none" stroke-width="1"/>
<circle cx="82.44" cy="300.33" r="0.86" fill="#a67f56" stroke="none" stroke-width="1"/>
<circle cx="84.63" cy="293.60" r="1.19" fill="#a67f56" stroke="none" stroke-width="1"/>
<circle cx="85.84" cy="301.02" r="0.99" fill="#a67f56" stroke="none" stroke-width="1"/>
<circle cx="89.45" cy="294.96" r="1.02" fill="#a67f56" stroke="none" stroke-width="1"/>
<circle cx="89.66" cy="302.99" r="1.22" fill="#a67f56" stroke="none" stroke-width="1"/>
<circle cx="92.58" cy="295.60" r="1.0" fill="#a67f56" stroke="none" stroke-width="1"/>
<circle cx="92.29" cy="303.75" r="1.3" fill="#a67f56" stroke="none" stroke-width="1"/>
<circle cx="93.97" cy="296.14" r="0.9" fill="#a67f56" stroke="none" stroke-width="1"/>
<circle cx="95.22" cy="304.05" r="1.09" fill="#a67f56" stroke="none" stroke-width="1"/>
<circle cx="97.24" cy="297.31" r="1.0" fill="#a67f56" stroke="none" stroke-width="1"/>
<circle cx="98.58" cy="305.13" r="1.29" fill="#a67f56" stroke="none" stroke-width="1"/>
<circle cx="101.48" cy="297.85" r="1.11" fill="#a67f56" stroke="none" stroke-width="1"/>
<circle cx="102.55" cy="305.59" r="1.26" fill="#a67f56" stroke="none" stroke-width="1"/>
<circle cx="104.90" cy="298.35" r="1.21" fill="#a67f56" stroke="none" stroke-width="1"/>
<circle cx="104.84" cy="306.72" r="0.83" fill="#a67f56" stroke="none" stroke-width="1"/>
<circle cx="107.34" cy="300.15" r="0.81" fill="#a67f56" stroke="none" stroke-width="1"/>
<circle cx="107.58" cy="307.19" r="0.96" fill="#a67f56" stroke="none" stroke-width="1"/>
<circle cx="109.05" cy="300.73" r="0.85" fill="#a67f56" stroke="none" stroke-width="1"/>
<circle cx="110.33" cy="308.25" r="0.78" fill="#a67f56" stroke="none" stroke-width="1"/>
<circle cx="114.24" cy="301.40" r="0.85" fill="#a67f56" stroke="none" stroke-width="1"/>
<circle cx="113.76" cy="309.22" r="0.97" fill="#a67f56" stroke="none" stroke-width="1"/>
<circle cx="115.67" cy="301.49" r="1.32" fill="#a67f56" stroke="none" stroke-width="1"/>
<circle cx="117.28" cy="310.42" r="0.82" fill="#a67f56" stroke="none" stroke-width="1"/>
<circle cx="118.51" cy="303.00" r="0.92" fill="#a67f56" stroke="none" stroke-width="1"/>
<circle cx="121.30" cy="311.15" r="0.78" fill="#a67f56" stroke="none" stroke-width="1"/>
<circle cx="123.61" cy="304.22" r="0.85" fill="#a67f56" stroke="none" stroke-width="1"/>
<circle cx="123.77" cy="311.68" r="1.06" fill="#a67f56" stroke="none" stroke-width="1"/>
<circle cx="126.87" cy="304.71" r="1.15" fill="#a67f56" stroke="none" stroke-width="1"/>
<circle cx="126.07" cy="312.80" r="0.86" fill="#a67f56" stroke="none" stroke-width="1"/>
<circle cx="129.35" cy="305.87" r="1.2" fill="#a67f56" stroke="none" stroke-width="1"/>
<circle cx="129.35" cy="313.56" r="1.22" fill="#a67f56" stroke="none" stroke-width="1"/>
<circle cx="133.03" cy="306.50" r="1.21" fill="#a67f56" stroke="none" stroke-width="1"/>
<circle cx="131.14" cy="259.76" r="0.89" fill="#a88158" stroke="none" stroke-width="1"/>
<circle cx="141.36" cy="259.04" r="0.79" fill="#a88158" stroke="none" stroke-width="1"/>
<circle cx="131.74" cy="261.27" r="0.91" fill="#a88158" stroke="none" stroke-width="1"/>
<circle cx="142.14" cy="262.86" r="1.02" fill="#a88158" stroke="none" stroke-width="1"/>
<circle cx="130.82" cy="266.85" r="1.3" fill="#a88158" stroke="none" stroke-width="1"/>
<circle cx="141.19" cy="265.48" r="0.89" fill="#a88158" stroke="none" stroke-width="1"/>
<circle cx="131.83" cy="268.47" r="1.11" fill="#a88158" stroke="none" stroke-width="1"/>
<circle cx="141.99" cy="270.16" r="1.03" fill="#a88158" stroke="none" stroke-width="1"/>
<circle cx="131.06" cy="272.97" r="0.82" fill="#a88158" stroke="none" stroke-width="1"/>
<circle cx="142.08" cy="272.99" r="1.2" fill="#a88158" stroke="none" stroke-width="1"/>
<circle cx="131.48" cy="276.60" r="0.87" fill="#a88158" stroke="none" stroke-width="1"/>
<circle cx="141.33" cy="276.69" r="1.21" fill="#a88158" stroke="none" stroke-width="1"/>
<circle cx="131.59" cy="280.53" r="0.99" fill="#a88158" stroke="none" stroke-width="1"/>
<circle cx="141.84" cy="280.47" r="0.86" fill="#a88158" stroke="none" stroke-width="1"/>
<circle cx="131.90" cy="281.90" r="1.27" fill="#a88158" stroke="none" stroke-width="1"/>
<circle cx="141.09" cy="283.54" r="1.22" fill="#a88158" stroke="none" stroke-width="1"/>
<circle cx="131.25" cy="287.35" r="0.96" fill="#a88158" stroke="none" stroke-width="1"/>
<circle cx="141.07" cy="286.32" r="0.78" fill="#a88158" stroke="none" stroke-width="1"/>
<circle cx="131.26" cy="290.73" r="1.06" fill="#a88158" stroke="none" stroke-width="1"/>
<circle cx="141.46" cy="290.64" r="1.25" fill="#a88158" stroke="none" stroke-width="1"/>
<circle cx="131.83" cy="293.78" r="0.91" fill="#a88158" stroke="none" stroke-width="1"/>
<circle cx="141.21" cy="292.50" r="1.09" fill="#a88158" stroke="none" stroke-width="1"/>
<circle cx="131.56" cy="295.82" r="0.84" fill="#a88158" stroke="none" stroke-width="1"/>
<circle cx="141.36" cy="297.38" r="1.02" fill="#a88158" stroke="none" stroke-width="1"/>
<circle cx="130.92" cy="300.00" r="1.0" fill="#a88158" stroke="none" stroke-width="1"/>
<circle cx="141.55" cy="300.80" r="1.06" fill="#a88158" stroke="none" stroke-width="1"/>
<circle cx="132.08" cy="303.26" r="1.01" fill="#a88158" stroke="none" stroke-width="1"/>
<circle cx="140.91" cy="302.44" r="1.21" fill="#a88158" stroke="none" stroke-width="1"/>
<circle cx="131.48" cy="305.81" r="1.17" fill="#a88158" stroke="none" stroke-width="1"/>
<circle cx="141.32" cy="306.74" r="1.06" fill="#a88158" stroke="none" stroke-width="1"/>
<circle cx="131.08" cy="310.13" r="0.83" fill="#a88158" stroke="none" stroke-width="1"/>
<circle cx="141.22" cy="310.14" r="0.92" fill="#a88158" stroke="none" stroke-width="1"/>
<circle cx="131.44" cy="314.05" r="1.08" fill="#a88158" stroke="none" stroke-width="1"/>
<circle cx="142.09" cy="314.02" r="1.01" fill="#a88158" stroke="none" stroke-width="1"/>
<circle cx="131.44" cy="317.07" r="1.05" fill="#a88158" stroke="none" stroke-width="1"/>
<circle cx="141.49" cy="317.26" r="1.06" fill="#a88158" stroke="none" stroke-width="1"/>
<circle cx="130.88" cy="320.15" r="1.15" fill="#a88158" stroke="none" stroke-width="1"/>
<circle cx="142.12" cy="321.10" r="0.91" fill="#a88158" stroke="none" stroke-width="1"/>
<circle cx="130.87" cy="323.74" r="1.23" fill="#a88158" stroke="none" stroke-width="1"/>
<circle cx="141.06" cy="322.73" r="1.01" fill="#a88158" stroke="none" stroke-width="1"/>
</g></g>
<linearGradient id="g3" x1="0" y1="0" x2="1" y2="1"><stop offset="0" stop-color="#c29f7c"/><stop offset="0.55" stop-color="#c8a582"/><stop offset="1" stop-color="#bb9774"/></linearGradient>
<clipPath id="p3"><rect x="193.3" y="259.1" width="59.3" height="66.1"/></clipPath>
<g clip-path="url(#p3)"><g filter="url(#bl)">
<rect x="193.3" y="259" width="60" height="67" fill="#a5a49f"/>
<rect x="193.3" y="259" width="10" height="67" fill="#bdbcb6"/>
<line x1="195.50" y1="259.00" x2="195.50" y2="326.00" stroke="#8e8d88" stroke-width="1"/>
<g filter="url(#bl2)"><polygon points="196,292 203,288 203,321 196,321" fill="#6a6965"/></g>
<polygon points="204.0,283.0 209.0,291.0 216.0,297.0 221.0,300.0 222.0,320.0 216.0,319.0 204.0,302.0" fill="#4d4c49"/>
<polygon points="204.0,259.0 232.0,259.0 235.0,266.0 239.0,275.0 242.0,279.0 242.0,306.0 240.0,316.0 229.0,320.0 222.0,320.0 221.0,300.0 216.0,297.0 209.0,291.0 204.0,283.0" fill="url(#g3)"/>
<circle cx="208.00" cy="270.00" r="0.9" fill="#dcc8ac" stroke="none" stroke-width="1"/>
<circle cx="212.00" cy="280.00" r="0.8" fill="#dcc8ac" stroke="none" stroke-width="1"/>
<circle cx="220.00" cy="283.00" r="0.8" fill="#dcc8ac" stroke="none" stroke-width="1"/>
<circle cx="228.00" cy="288.00" r="0.8" fill="#dcc8ac" stroke="none" stroke-width="1"/>
<circle cx="232.00" cy="296.00" r="0.9" fill="#dcc8ac" stroke="none" stroke-width="1"/>
<circle cx="224.00" cy="303.00" r="0.8" fill="#dcc8ac" stroke="none" stroke-width="1"/>
<circle cx="236.00" cy="284.00" r="0.8" fill="#dcc8ac" stroke="none" stroke-width="1"/>
<polyline points="202.9,259.0 202.9,300.8 216.1,318.9 228.2,320.0 241.4,306.8 243.1,259.0" fill="none" stroke="#cfcecb" stroke-width="1.6" stroke-linejoin="round" stroke-linecap="round"/>
<path d="M216,259 C216,273 235,273 235,259" fill="none" stroke="#d3d2ce" stroke-width="1.6"/>
<rect x="244" y="259" width="3.5" height="67" fill="#d2d1cc"/>
<rect x="247.5" y="259" width="5.1" height="67" fill="#8f8b82"/>
<rect x="193.3" y="321.2" width="60" height="5" fill="#b5b4ae"/>
</g></g>
<clipPath id="p4"><rect x="254.1" y="259.1" width="54.0" height="66.1"/></clipPath>
<g clip-path="url(#p4)"><g filter="url(#bl)">
<rect x="254.1" y="259" width="54" height="67" fill="#d2d2d0"/>
<line x1="256.70" y1="259.00" x2="256.70" y2="326.00" stroke="#b5b5b3" stroke-width="0.7"/>
<line x1="263.90" y1="259.00" x2="263.90" y2="326.00" stroke="#b5b5b3" stroke-width="0.7"/>
<line x1="271.10" y1="259.00" x2="271.10" y2="326.00" stroke="#b5b5b3" stroke-width="0.7"/>
<line x1="278.30" y1="259.00" x2="278.30" y2="326.00" stroke="#b5b5b3" stroke-width="0.7"/>
<line x1="285.50" y1="259.00" x2="285.50" y2="326.00" stroke="#b5b5b3" stroke-width="0.7"/>
<line x1="292.70" y1="259.00" x2="292.70" y2="326.00" stroke="#b5b5b3" stroke-width="0.7"/>
<line x1="299.90" y1="259.00" x2="299.90" y2="326.00" stroke="#b5b5b3" stroke-width="0.7"/>
<line x1="307.10" y1="259.00" x2="307.10" y2="326.00" stroke="#b5b5b3" stroke-width="0.7"/>
<line x1="254.10" y1="261.60" x2="309.00" y2="261.60" stroke="#b5b5b3" stroke-width="0.7"/>
<line x1="254.10" y1="268.80" x2="309.00" y2="268.80" stroke="#b5b5b3" stroke-width="0.7"/>
<line x1="254.10" y1="276.00" x2="309.00" y2="276.00" stroke="#b5b5b3" stroke-width="0.7"/>
<line x1="254.10" y1="283.20" x2="309.00" y2="283.20" stroke="#b5b5b3" stroke-width="0.7"/>
<line x1="254.10" y1="290.40" x2="309.00" y2="290.40" stroke="#b5b5b3" stroke-width="0.7"/>
<line x1="254.10" y1="297.60" x2="309.00" y2="297.60" stroke="#b5b5b3" stroke-width="0.7"/>
<line x1="254.10" y1="304.80" x2="309.00" y2="304.80" stroke="#b5b5b3" stroke-width="0.7"/>
<line x1="254.10" y1="312.00" x2="309.00" y2="312.00" stroke="#b5b5b3" stroke-width="0.7"/>
<line x1="254.10" y1="319.20" x2="309.00" y2="319.20" stroke="#b5b5b3" stroke-width="0.7"/>
<polygon points="259.5,275.2 264.9,272.0 273.4,267.7 282.0,265.1 287.4,266.6 290.6,269.9 294.9,273.1 302.4,274.1 301.3,282.7 299.1,291.3 297.0,299.9 293.8,308.4 291.6,319.1 290.6,323.4 272.4,325.5 271.3,319.1 269.1,308.4 267.0,303.1 262.7,299.9 259.5,293.4 258.4,282.7" fill="#86714d"/>
<g filter="url(#bl2)"><ellipse cx="282" cy="288" rx="13" ry="14" fill="#957f58"/></g>
<g filter="url(#bl2)"><ellipse cx="280" cy="274" rx="8" ry="4" fill="#9c8862"/></g>
<path d="M254.6,303.1 L265.5,303.1 Q268.1,303.1 268.1,306 L268.1,316 Q268.1,319.1 265.5,319.1 L254.6,319.1 Z" fill="#efefed"/>
<circle cx="261.6" cy="313.1" r="1.2" fill="none" stroke="#666" stroke-width="0.8"/>
<line x1="262.80" y1="313.10" x2="270.00" y2="312.80" stroke="#777" stroke-width="0.6"/>
</g></g>
<linearGradient id="g5" x1="0" y1="0" x2="0" y2="1"><stop offset="0" stop-color="#e4d5c1"/><stop offset="0.5" stop-color="#dcc8ad"/><stop offset="1" stop-color="#d0b597"/></linearGradient>
<clipPath id="p5"><rect x="351.0" y="259.1" width="60.4" height="66.1"/></clipPath>
<g clip-path="url(#p5)"><g filter="url(#bl)">
<rect x="351" y="259" width="61" height="67" fill="#a7a6a1"/>
<rect x="351" y="259" width="6.5" height="67" fill="#b8b7b2"/>
<line x1="353.20" y1="259.00" x2="353.20" y2="326.00" stroke="#85847f" stroke-width="1.3"/>
<circle cx="355.7" cy="269.8" r="3.2" fill="#d8d8d5"/>
<circle cx="355.1" cy="269" r="1.5" fill="#efefec"/>
<polygon points="357.5,259.0 397.0,259.0 397.0,263.0 393.0,264.0 388.0,269.0 381.0,272.0 373.0,273.0 368.5,278.4 366.4,285.0 365.3,292.3 362.1,299.8 361.0,313.7 357.5,313.7" fill="#2c2a28"/>
<polygon points="368.5,278.4 372.8,273.0 381.4,272.0 387.8,268.8 393.2,263.4 397.5,261.3 401.7,263.4 403.9,274.1 404.9,299.8 403.9,313.7 361.0,313.7 362.1,299.8 365.3,292.3 366.4,284.8" fill="url(#g5)"/>
<polygon points="397.0,263.0 402.0,264.0 404.0,275.0 404.5,300.0 403.5,312.0 398.0,312.0 397.5,290.0" fill="#e2d0b8"/>
<polyline points="360.0,259.0 360.0,309.5 362.5,314.8 368.0,315.9 392.0,315.9 396.0,313.5 397.5,310.0 394.2,259.0" fill="none" stroke="#c9c8c4" stroke-width="1.8" stroke-linejoin="round" stroke-linecap="round"/>
<polyline points="363.2,259.0 366.4,296.6" fill="none" stroke="#bdbcb8" stroke-width="1.4" stroke-linejoin="round" stroke-linecap="round"/>
<rect x="405.5" y="259" width="6" height="67" fill="#a9a8a3"/>
<line x1="407.00" y1="259.00" x2="407.00" y2="326.00" stroke="#8b8a85" stroke-width="1"/>
<rect x="351" y="317.5" width="61" height="9" fill="#a3a29d"/>
<line x1="351.00" y1="321.00" x2="412.00" y2="321.00" stroke="#c2c1bc" stroke-width="1.5"/>
</g></g>
<clipPath id="p6"><rect x="413.9" y="259.1" width="74.9" height="66.1"/></clipPath>
<g clip-path="url(#p6)"><g filter="url(#bl)">
<rect x="413.9" y="259" width="75" height="67" fill="#d0d0cc"/>
<line x1="418.90" y1="259.00" x2="418.90" y2="326.00" stroke="#bdbdba" stroke-width="0.7"/>
<line x1="430.60" y1="259.00" x2="430.60" y2="326.00" stroke="#bdbdba" stroke-width="0.7"/>
<line x1="442.30" y1="259.00" x2="442.30" y2="326.00" stroke="#bdbdba" stroke-width="0.7"/>
<line x1="454.00" y1="259.00" x2="454.00" y2="326.00" stroke="#bdbdba" stroke-width="0.7"/>
<line x1="465.70" y1="259.00" x2="465.70" y2="326.00" stroke="#bdbdba" stroke-width="0.7"/>
<line x1="477.40" y1="259.00" x2="477.40" y2="326.00" stroke="#bdbdba" stroke-width="0.7"/>
<line x1="413.90" y1="265.00" x2="489.00" y2="265.00" stroke="#bdbdba" stroke-width="0.7"/>
<line x1="413.90" y1="276.70" x2="489.00" y2="276.70" stroke="#bdbdba" stroke-width="0.7"/>
<line x1="413.90" y1="288.40" x2="489.00" y2="288.40" stroke="#bdbdba" stroke-width="0.7"/>
<line x1="413.90" y1="300.10" x2="489.00" y2="300.10" stroke="#bdbdba" stroke-width="0.7"/>
<line x1="413.90" y1="311.80" x2="489.00" y2="311.80" stroke="#bdbdba" stroke-width="0.7"/>
<line x1="413.90" y1="323.50" x2="489.00" y2="323.50" stroke="#bdbdba" stroke-width="0.7"/>
<path d="M418,300 C420,280 430,266 448,259" fill="none" stroke="#e4e4e0" stroke-width="1.3"/>
<path d="M414,318 C425,300 430,285 436,272" fill="none" stroke="#e0e0dc" stroke-width="1"/>
<polygon points="414.3,308.4 415.4,297.7 418.6,287.0 422.8,281.6 428.2,280.5 431.4,282.7 435.7,278.4 440.0,275.2 442.1,269.8 445.3,267.7 449.6,262.4 455.0,260.2 465.7,260.2 471.0,263.4 476.4,261.3 480.6,263.4 483.9,269.8 484.9,282.7 483.9,295.5 482.8,310.5 480.6,321.2 479.6,326.0 430.0,326.0 420.0,318.0 414.3,316.0" fill="#ab9870"/>
<g filter="url(#bl2)"><ellipse cx="464" cy="272" rx="13" ry="8" fill="#b9a882"/><ellipse cx="428" cy="295" rx="8" ry="9" fill="#b0a07a"/><ellipse cx="460" cy="312" rx="14" ry="9" fill="#9c865c"/></g>
<g filter="url(#bl2)"><polygon points="413,310 421,316 428,326 413,326" fill="#d2d2c8"/></g>
<path d="M473,281 L474.5,293" stroke="#ddd6c4" stroke-width="1.8"/>
<path d="M431,302 C430,306 429,309 428.5,313" stroke="#d8d0b8" stroke-width="1.2" fill="none"/>
<path d="M444,301 L447,307" stroke="#d0c6ac" stroke-width="1.4"/>
<path d="M456,302 L472,317" stroke="#8c7650" stroke-width="0.8"/>
<path d="M482.8,268.8 L489,263.4" stroke="#1e1e1e" stroke-width="2.4"/>
</g></g>
<clipPath id="p7"><rect x="527.8" y="259.1" width="56.1" height="66.1"/></clipPath>
<g clip-path="url(#p7)"><g filter="url(#bl)">
<rect x="527.8" y="259" width="57" height="67" fill="#a8a7a1"/>
<line x1="532.50" y1="259.00" x2="532.50" y2="326.00" stroke="#7a7974" stroke-width="1.2"/>
<rect x="533.6" y="259" width="42.6" height="56" fill="#2b2722"/>
<polygon points="545.4,267.7 551.8,262.3 556.1,260.2 575.3,260.2 575.3,284.8 572.1,291.2 571.0,299.8 574.2,308.3 572.1,314.7 536.8,314.7 535.8,304.0 536.8,284.8 540.0,281.6 543.2,278.4 545.4,274.1" fill="#edd5a8"/>
<polygon points="556.0,259.5 575.5,259.5 575.5,267.0 560.0,265.0" fill="#f5f0e6"/>
<clipPath id="c7"><polygon points="545.4,267.7 551.8,262.3 556.1,260.2 575.3,260.2 575.3,284.8 572.1,291.2 571,299.8 574.2,308.3 572.1,314.7 536.8,314.7 535.8,304 536.8,284.8 540,281.6 543.2,278.4 545.4,274.1"/></clipPath><g clip-path="url(#c7)"><g filter="url(#bl2)" opacity="0.9">
<circle cx="551.80" cy="278.40" r="4.2" fill="#d9aa72" stroke="none" stroke-width="1"/>
<circle cx="540.50" cy="286.00" r="4.2" fill="#d9aa72" stroke="none" stroke-width="1"/>
<circle cx="566.80" cy="289.10" r="5" fill="#d9aa72" stroke="none" stroke-width="1"/>
<circle cx="552.90" cy="296.60" r="5.2" fill="#d9aa72" stroke="none" stroke-width="1"/>
<circle cx="567.80" cy="304.00" r="5" fill="#d9aa72" stroke="none" stroke-width="1"/>
<circle cx="547.50" cy="308.30" r="3.6" fill="#d9aa72" stroke="none" stroke-width="1"/>
</g></g>
<line x1="578.00" y1="259.00" x2="578.00" y2="326.00" stroke="#74736e" stroke-width="1.1"/>
<line x1="582.30" y1="259.00" x2="582.30" y2="326.00" stroke="#8a8984" stroke-width="1"/>
<rect x="527.8" y="315.5" width="57" height="10" fill="#a6a59f"/>
<line x1="527.80" y1="318.50" x2="584.00" y2="318.50" stroke="#c8c7c1" stroke-width="1.5"/>
</g></g>
<clipPath id="p8"><rect x="587.2" y="259.1" width="58.4" height="66.1"/></clipPath>
<g clip-path="url(#p8)"><g filter="url(#bl)">
<rect x="587.2" y="259" width="59" height="67" fill="#bdbdb9"/>
<rect x="587.2" y="259" width="59" height="33" fill="#dcdcd7"/>
<rect x="636" y="259" width="10" height="33" fill="#d0d0cc"/>
<line x1="640.00" y1="259.00" x2="640.00" y2="292.00" stroke="#bdbdb9" stroke-width="0.8"/>
<line x1="598.10" y1="292.00" x2="598.10" y2="326.00" stroke="#9f9f9c" stroke-width="0.9"/>
<line x1="610.60" y1="292.00" x2="610.60" y2="326.00" stroke="#9f9f9c" stroke-width="0.9"/>
<line x1="623.10" y1="292.00" x2="623.10" y2="326.00" stroke="#9f9f9c" stroke-width="0.9"/>
<line x1="635.60" y1="292.00" x2="635.60" y2="326.00" stroke="#9f9f9c" stroke-width="0.9"/>
<line x1="587.20" y1="293.30" x2="646.00" y2="293.30" stroke="#9f9f9c" stroke-width="0.9"/>
<line x1="587.20" y1="304.60" x2="646.00" y2="304.60" stroke="#9f9f9c" stroke-width="0.9"/>
<line x1="587.20" y1="315.90" x2="646.00" y2="315.90" stroke="#9f9f9c" stroke-width="0.9"/>
<polygon points="587.2,315.0 606.0,316.0 608.0,326.0 587.2,326.0" fill="#d6d4ce"/>
<text x="602" y="266.5" font-size="6.5" fill="#3a3a3a" font-style="italic">DC 4/</text>
<text x="604" y="275" font-size="5" fill="#444" font-style="italic">mnb</text>
<polyline points="618.5,326.0 618.0,310.0 617.6,297.0 616.5,282.0 615.5,268.0" fill="none" stroke="#ab9b62" stroke-width="7.5" stroke-linejoin="round" stroke-linecap="round"/>
<polyline points="614.0,300.0 606.0,292.0 599.0,282.0 591.5,272.0" fill="none" stroke="#ab9b62" stroke-width="6.5" stroke-linejoin="round" stroke-linecap="round"/>
<polyline points="602.0,286.0 600.5,274.0 600.5,262.0" fill="none" stroke="#ab9b62" stroke-width="6" stroke-linejoin="round" stroke-linecap="round"/>
<polyline points="596.0,280.0 591.6,290.5" fill="none" stroke="#ab9b62" stroke-width="4.5" stroke-linejoin="round" stroke-linecap="round"/>
<polyline points="620.0,298.0 622.3,287.4 625.0,275.0 627.0,262.5" fill="none" stroke="#ab9b62" stroke-width="6.5" stroke-linejoin="round" stroke-linecap="round"/>
<polyline points="624.0,281.0 631.0,272.0 637.9,264.0" fill="none" stroke="#ab9b62" stroke-width="5" stroke-linejoin="round" stroke-linecap="round"/>
<polyline points="626.0,288.0 634.8,285.8 642.6,284.3" fill="none" stroke="#ab9b62" stroke-width="5" stroke-linejoin="round" stroke-linecap="round"/>
<polyline points="616.0,309.0 606.0,308.0 596.0,307.7 592.7,313.9" fill="none" stroke="#ab9b62" stroke-width="6.5" stroke-linejoin="round" stroke-linecap="round"/>
<polyline points="620.0,309.0 630.0,306.0 638.0,304.5 641.0,310.0" fill="none" stroke="#ab9b62" stroke-width="6" stroke-linejoin="round" stroke-linecap="round"/>
<polyline points="606.0,309.0 603.0,316.0" fill="none" stroke="#ab9b62" stroke-width="4.5" stroke-linejoin="round" stroke-linecap="round"/>
<polyline points="618.0,318.0 617.5,290.0" fill="none" stroke="#b8a970" stroke-width="2.5" stroke-linejoin="round" stroke-linecap="round"/>
<polyline points="625.0,282.0 626.5,266.0" fill="none" stroke="#bcad75" stroke-width="2" stroke-linejoin="round" stroke-linecap="round"/>
<polyline points="600.5,282.0 600.5,266.0" fill="none" stroke="#bcad75" stroke-width="2" stroke-linejoin="round" stroke-linecap="round"/>
<polyline points="612.0,295.0 600.0,283.0" fill="none" stroke="#b8a970" stroke-width="2" stroke-linejoin="round" stroke-linecap="round"/>
</g></g>
</g>
</g>
</svg>
</body></html>
